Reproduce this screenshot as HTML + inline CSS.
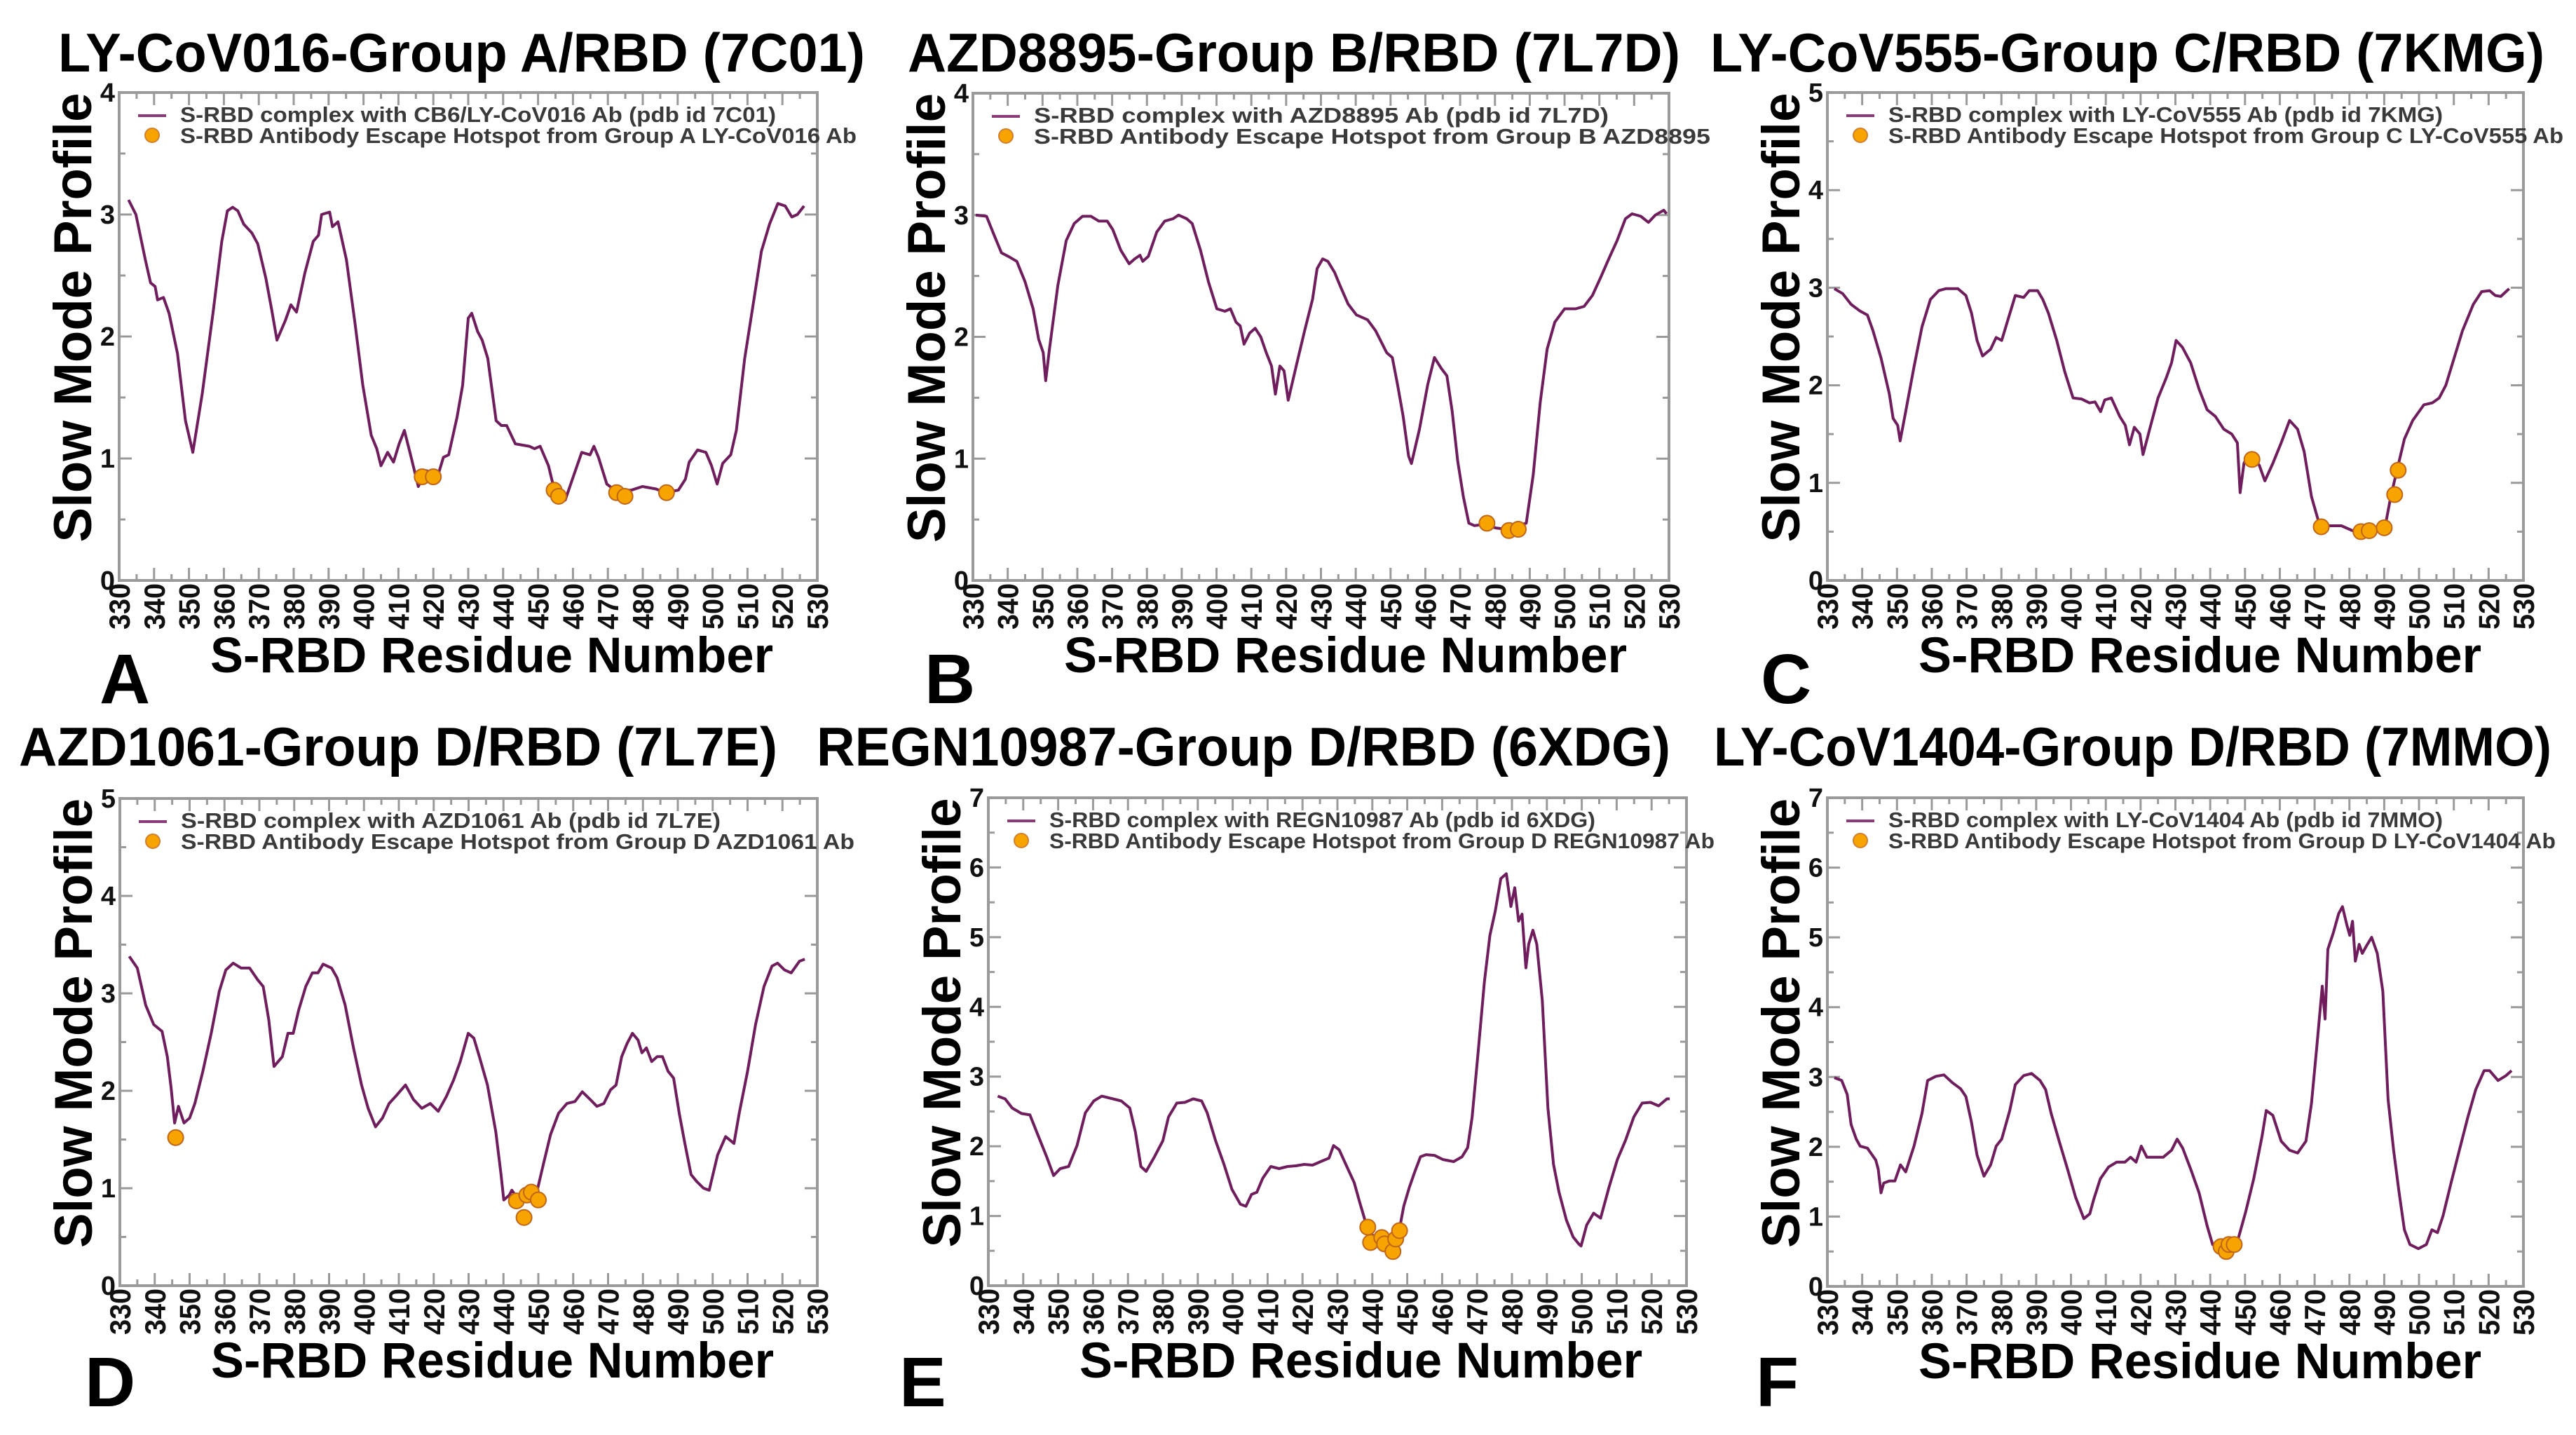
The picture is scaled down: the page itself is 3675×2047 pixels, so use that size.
<!DOCTYPE html>
<html>
<head>
<meta charset="utf-8">
<style>
html,body{margin:0;padding:0;background:#fff;}
svg{display:block;}
text{font-family:"Liberation Sans",Arial,sans-serif;}
</style>
</head>
<body>
<svg id="fig" xmlns="http://www.w3.org/2000/svg" width="3675" height="2047" viewBox="0 0 3675 2047"></svg>
<script>
// ---------- data ----------
const xTickLabels = [330,340,350,360,370,380,390,400,410,420,430,440,450,460,470,480,490,500,510,520,530];

const aRes = [332.7,334.8,337.5,339,340.3,341,342.7,344.3,346.7,349,351.1,353.8,357,359.4,361,362.5,364,365.7,368,369.7,372,373.7,375.2,377.6,379.2,380.8,383.2,385.6,387.1,388,390.3,391.1,392.7,395.1,397.5,399.8,402.2,403.8,405,406.9,408.6,410.2,411.7,413.3,415.7,418,421.3,422.9,424.4,426.8,428.4,430,431,432.7,434,435.6,438,439.5,441,443.5,447.5,449,450.6,453,454.6,457.8,460.2,462.5,464.9,466,467.3,469.7,472,476.7,479.9,483.8,486.3,490.2,492.2,493.3,495.7,498.1,499.7,501.3,502.9,505.2,506.8,509.2,511.6,514,516.3,518.7,520.8,522.7,524.3,526.2];
const aVal = [3.12,3.0,2.63,2.44,2.41,2.3,2.32,2.19,1.86,1.31,1.05,1.53,2.22,2.78,3.03,3.06,3.03,2.92,2.85,2.76,2.48,2.22,1.97,2.13,2.26,2.2,2.52,2.78,2.83,3.0,3.02,2.9,2.94,2.63,2.12,1.6,1.19,1.08,0.94,1.05,0.97,1.12,1.23,1.05,0.77,0.9,0.86,1.01,1.03,1.34,1.6,2.15,2.19,2.04,1.97,1.82,1.31,1.27,1.27,1.12,1.1,1.08,1.1,0.94,0.75,0.66,0.86,1.05,1.03,1.1,1.01,0.79,0.74,0.74,0.77,0.75,0.72,0.74,0.83,0.97,1.07,1.05,0.94,0.79,0.96,1.03,1.23,1.82,2.26,2.7,2.92,3.09,3.07,2.98,3.0,3.07];
const aDotRes = [416.8,420,454.6,455.9,472.5,474.9,486.8];
const aDotVal = [0.85,0.85,0.74,0.69,0.72,0.69,0.72];

const bRes = [330.8,333.9,336.3,338.2,340.2,342.6,345,347.3,348.9,350.2,350.9,352,354.4,356.8,359.1,361.5,363.9,366.2,368.6,370.2,372.5,374.9,376.5,378,378.8,380.4,382.8,385.1,387.5,389.1,391.4,393,395.4,397.7,400.1,402.4,404,405.6,406.8,407.9,409.5,411.1,412.7,414.3,415.8,416.9,418.2,419.4,420.6,422.9,425.3,427.6,428.9,430.5,432,433.9,435.5,437.8,440.2,443.4,445.7,448.9,450.5,452,453.6,455.2,456,458.3,460.7,462.6,464.6,466.2,467.7,469.3,470.9,472.5,474.1,476.5,480.4,483.5,489,491,493,495,497.2,500,503.2,505.6,508,510.4,512.7,515.1,517.5,519.4,521.9,524.1,526.1,528.5,529.3];
const bVal = [3.0,2.99,2.82,2.69,2.66,2.62,2.45,2.23,1.98,1.87,1.64,1.9,2.42,2.79,2.93,2.99,2.99,2.95,2.95,2.88,2.71,2.6,2.64,2.67,2.62,2.66,2.86,2.95,2.97,3.0,2.97,2.93,2.71,2.45,2.23,2.21,2.23,2.12,2.09,1.94,2.03,2.07,2.0,1.87,1.76,1.53,1.76,1.72,1.48,1.76,2.05,2.31,2.56,2.64,2.62,2.53,2.42,2.27,2.18,2.14,2.05,1.87,1.83,1.61,1.35,1.02,0.96,1.24,1.61,1.83,1.74,1.68,1.39,0.98,0.69,0.47,0.45,0.46,0.43,0.42,0.47,0.87,1.46,1.9,2.12,2.23,2.23,2.25,2.34,2.49,2.64,2.79,2.97,3.01,2.99,2.94,3.0,3.04,3.01];
const bDotRes = [477.7,484,486.7];
const bDotVal = [0.47,0.41,0.42];

const cRes = [332,334.4,336.8,339.4,341.5,343.1,345.4,347.8,348.9,350.2,350.9,352.5,354.9,357.2,359.6,362,364,367.5,369.8,371.4,373,374.6,376.9,378.5,380.1,381.7,384,386.4,388,390.4,391.9,393.5,395.9,398.2,400.6,403,405.3,406.9,408.5,409.7,411.6,414,415.6,416.8,418.2,419.8,420.7,422.6,425,427.3,428.9,430.2,432,434.4,436.8,439.1,441.5,443.9,446.2,447.8,448.6,449.7,450.9,452.2,454.1,455.7,458,460.4,462.8,465.1,467,469.1,471.4,473.8,477.7,480.9,483.3,488,490.3,491.9,493.4,495.8,498.2,501.4,503.8,505.8,507.7,510.1,512.5,515.6,518,520.3,521.9,523.5,525.9];
const cVal = [2.99,2.94,2.83,2.76,2.72,2.56,2.28,1.91,1.66,1.59,1.43,1.73,2.19,2.6,2.88,2.97,2.99,2.99,2.92,2.74,2.46,2.3,2.37,2.49,2.46,2.65,2.92,2.9,2.97,2.97,2.88,2.74,2.46,2.14,1.87,1.86,1.82,1.83,1.73,1.85,1.87,1.68,1.59,1.39,1.57,1.5,1.29,1.55,1.87,2.07,2.23,2.46,2.39,2.23,1.96,1.75,1.68,1.55,1.5,1.41,0.9,1.2,1.29,1.25,1.18,1.02,1.2,1.41,1.64,1.55,1.32,0.86,0.57,0.56,0.56,0.51,0.5,0.51,0.56,0.86,1.09,1.45,1.64,1.8,1.82,1.87,2.0,2.28,2.56,2.83,2.96,2.97,2.92,2.91,2.99];
const cDotRes = [452,471.9,483.3,485.7,490,493,494];
const cDotVal = [1.24,0.55,0.5,0.51,0.54,0.88,1.13];

const dRes = [332.7,335,337.4,339.7,342.1,343.6,344.7,345.7,346.8,348.4,350,351.5,353.8,356.2,358.5,360.4,362.5,364.8,367.2,369.5,371.1,372.7,374.2,376.6,378.2,379.7,381.3,383.3,385.2,386.8,388.3,390.7,392.3,394.6,397,399.3,401.2,403.3,405.3,407.2,409.5,411.9,414.2,416.6,419,421.3,423.6,425.7,427.6,429.9,431.5,433.1,435.4,437.8,439.3,440.1,441.7,442.4,444,445.6,447.2,449.5,451.4,453.5,455.8,458.2,460.5,462.6,464.9,466.8,468.8,470.7,472.3,473.9,475.5,477,478.6,479.7,481,482.5,484.1,485.6,487.2,488.8,490.4,491.9,493.8,495.4,497.4,499,501.4,503.7,506.1,507.6,510,512.3,514.7,517,518.6,520.6,522.5,524.9,526.4];
const dVal = [3.38,3.26,2.88,2.68,2.61,2.35,2.03,1.67,1.84,1.67,1.72,1.87,2.2,2.59,3.02,3.24,3.31,3.26,3.26,3.14,3.07,2.73,2.25,2.35,2.59,2.59,2.83,3.07,3.21,3.21,3.3,3.26,3.16,2.88,2.44,2.06,1.82,1.63,1.72,1.87,1.96,2.06,1.91,1.82,1.87,1.79,1.94,2.11,2.3,2.59,2.54,2.35,2.06,1.58,1.14,0.88,0.93,0.98,0.9,0.86,0.93,0.95,1.24,1.55,1.77,1.87,1.89,1.99,1.91,1.84,1.87,2.01,2.06,2.35,2.49,2.59,2.52,2.39,2.44,2.3,2.35,2.35,2.2,2.13,1.77,1.48,1.14,1.07,1.0,0.98,1.34,1.53,1.46,1.77,2.2,2.68,3.07,3.28,3.31,3.24,3.21,3.33,3.35];
const dDotRes = [346,443.7,445.9,446.7,448,450];
const dDotVal = [1.52,0.87,0.7,0.93,0.96,0.88];

const eRes = [332.7,334.8,336.8,339.5,341.9,344.3,346.7,348.7,350.6,353,355.4,357.8,360.2,362.5,365.7,368.1,370.5,372.1,373.7,375.2,377.6,380,381.6,384,386.3,388.7,391.1,392.7,395.1,397.5,399.8,402.2,403.8,405.4,406.9,408.6,410.9,413.3,415.7,418.1,420.5,422.9,425.2,427.6,428.9,430.5,432.4,434.8,436.3,437.9,439.5,441.1,442.7,444.3,445.9,447.5,449,450.6,452.2,453.8,455.4,457.8,460.2,463.3,465.7,467.3,468.6,470.2,472.1,473.7,475.2,476.8,478.4,479.7,480.8,481.9,482.9,484,484.8,486,487.1,488.7,490.3,491.9,493.5,495.6,497.5,499.1,499.8,501.4,503.4,505.4,507.8,510.2,512.5,514.9,517.3,519.7,522,524.4,525.2];
const eVal = [2.72,2.68,2.55,2.47,2.45,2.15,1.85,1.58,1.68,1.71,2.01,2.48,2.65,2.72,2.68,2.65,2.55,2.21,1.71,1.64,1.85,2.08,2.42,2.62,2.63,2.68,2.65,2.48,2.08,1.74,1.38,1.17,1.14,1.31,1.34,1.54,1.71,1.68,1.71,1.72,1.74,1.73,1.78,1.83,2.01,1.95,1.74,1.48,1.21,0.94,0.74,0.7,0.7,0.6,0.6,0.74,1.14,1.41,1.64,1.85,1.88,1.87,1.81,1.78,1.85,1.98,2.42,3.29,4.36,5.03,5.37,5.84,5.91,5.44,5.71,5.23,5.33,4.56,4.9,5.1,4.9,4.09,2.55,1.74,1.34,0.94,0.7,0.6,0.57,0.87,1.04,0.97,1.41,1.81,2.08,2.42,2.62,2.63,2.58,2.68,2.68];
const eDotRes = [438.7,439.5,442.7,443.5,445.9,446.7,447.8];
const eDotVal = [0.84,0.62,0.69,0.6,0.49,0.67,0.79];

const fRes = [332,334.1,335.7,336.8,338.3,339.4,341.5,343.9,344.6,345.4,346.2,347.8,349.4,351,352.5,354.9,357.2,358.8,361.2,363.5,365.9,368.3,369.8,371.4,373,375,376.9,378.5,380.1,382.4,384,386.4,388.7,391.1,392.7,394.3,396.6,399,401.3,403.7,405.4,406.5,408.4,410.8,413.1,415.5,417.1,418.7,420.2,421.8,424.2,426.5,428.9,430.5,432.1,434.4,436.8,439.1,440.7,442.3,445.4,447.8,450.2,452.5,454.9,456.1,458,460.4,462.8,465.1,467.5,469.1,470.6,472.2,473,473.8,475.4,476.9,478,479.3,480.1,480.9,481.7,482.8,483.7,484.8,486.4,488,489.6,491.1,492.7,494.3,495.8,497.4,499.8,502.1,503.7,505.3,506.9,509.2,511.6,514,516.3,518.7,520.3,522.7,525,526.6];
const fVal = [2.99,2.95,2.75,2.32,2.11,2.01,1.98,1.81,1.68,1.34,1.48,1.51,1.51,1.74,1.64,2.01,2.48,2.95,3.01,3.03,2.92,2.83,2.72,2.35,1.88,1.58,1.74,2.01,2.11,2.52,2.89,3.02,3.05,2.95,2.82,2.48,2.08,1.68,1.28,0.97,1.04,1.24,1.54,1.71,1.78,1.78,1.85,1.78,2.01,1.85,1.85,1.85,1.95,2.11,1.98,1.68,1.34,0.87,0.6,0.54,0.5,0.64,1.07,1.54,2.15,2.52,2.45,2.08,1.95,1.91,2.08,2.62,3.42,4.3,3.83,4.83,5.07,5.34,5.44,5.17,5.03,5.23,4.66,4.9,4.77,4.87,5.0,4.77,4.23,2.68,1.95,1.34,0.81,0.6,0.54,0.6,0.81,0.77,1.01,1.48,1.95,2.42,2.82,3.09,3.09,2.95,3.02,3.09];
const fDotRes = [443.1,444.6,445.4,446.9];
const fDotVal = [0.57,0.5,0.6,0.6];

const panelTitles = ["LY-CoV016-Group A/RBD (7C01)","AZD8895-Group B/RBD (7L7D)","LY-CoV555-Group C/RBD (7KMG)","AZD1061-Group D/RBD (7L7E)","REGN10987-Group D/RBD (6XDG)","LY-CoV1404-Group D/RBD (7MMO)"];
const legendLine = ["S-RBD  complex with CB6/LY-CoV016 Ab (pdb id 7C01)","S-RBD  complex with AZD8895 Ab (pdb id 7L7D)","S-RBD  complex with LY-CoV555 Ab (pdb id 7KMG)","S-RBD  complex with AZD1061 Ab (pdb id 7L7E)","S-RBD  complex with REGN10987 Ab (pdb id 6XDG)","S-RBD  complex with LY-CoV1404 Ab (pdb id 7MMO)"];
const legendDot = ["S-RBD Antibody Escape Hotspot from Group A LY-CoV016 Ab","S-RBD Antibody Escape Hotspot from Group B AZD8895","S-RBD Antibody Escape Hotspot from Group C LY-CoV555 Ab","S-RBD Antibody Escape Hotspot from Group D AZD1061 Ab","S-RBD Antibody Escape Hotspot from Group D REGN10987 Ab","S-RBD Antibody Escape Hotspot from Group D LY-CoV1404 Ab"];
const yMaxes = [4,4,5,5,7,7];
const panelLetters = ["A","B","C","D","E","F"];

// ---------- layout ----------
const boxes = [
  {l:170,t:132,r:1166,b:828, tx:83,tw:1151,ty:102, lx:142,ly:1003, l1:850,l2:965},
  {l:1388,t:133,r:2381,b:828, tx:1295,tw:1102,ty:102, lx:1319,ly:1003, l1:820,l2:965},
  {l:2607,t:132,r:3600,b:828, tx:2440,tw:1190,ty:102, lx:2512,ly:1003, l1:791,l2:963},
  {l:171,t:1139,r:1166,b:1834, tx:27,tw:1082,ty:1092, lx:121,ly:2006, l1:770,l2:961},
  {l:1410,t:1138,r:2406,b:1834, tx:1165,tw:1218,ty:1092, lx:1283,ly:2006, l1:779,l2:949},
  {l:2607,t:1138,r:3600,b:1835, tx:2445,tw:1195,ty:1092, lx:2505,ly:2006, l1:791,l2:952}
];
const seriesRes = [aRes,bRes,cRes,dRes,eRes,fRes];
const seriesVal = [aVal,bVal,cVal,dVal,eVal,fVal];
const dotRes = [aDotRes,bDotRes,cDotRes,dDotRes,eDotRes,fDotRes];
const dotVal = [aDotVal,bDotVal,cDotVal,dDotVal,eDotVal,fDotVal];

const NS = "http://www.w3.org/2000/svg";
const svg = document.getElementById("fig");
function mk(tag, attrs, parent){
  const e = document.createElementNS(NS, tag);
  for (const k in attrs) e.setAttribute(k, attrs[k]);
  (parent||svg).appendChild(e);
  return e;
}
const AX = "#9a9a9a";

for (let p=0;p<6;p++){
  const B = boxes[p];
  const ymax = yMaxes[p];
  const xS = v => B.l + (v-330)/200*(B.r-B.l);
  const yS = v => B.b - v/ymax*(B.b-B.t);
  const g = mk("g",{});
  
  

  // title
  const tt = mk("text",{x:B.tx,y:B.ty,"font-size":78,"font-weight":"bold",fill:"#000",textLength:B.tw,lengthAdjust:"spacingAndGlyphs"},g);
  tt.textContent = panelTitles[p];
  
  

  // ticks
  const tg = mk("g",{stroke:AX,"stroke-width":3},g);
  
  
  for (let v=330; v<=530; v+=5){
    const x = xS(v), L = (v%10===0)?18:9;
    mk("line",{x1:x,y1:B.b,x2:x,y2:B.b-L},tg);
    mk("line",{x1:x,y1:B.t,x2:x,y2:B.t+L},tg);
  }
  for (let k=0;k<=ymax*2;k++){
    const v=k/2, y=yS(v), L=(k%2===0)?18:9;
    mk("line",{x1:B.l,y1:y,x2:B.l+L,y2:y},tg);
    mk("line",{x1:B.r,y1:y,x2:B.r-L,y2:y},tg);
  }
  const box = mk("rect",{x:B.l,y:B.t,width:B.r-B.l,height:B.b-B.t,fill:"none",stroke:AX,"stroke-width":4},g);
  
  

  // y tick labels
  for (let v=0; v<=ymax; v++){
    const t = mk("text",{x:B.l-6,y:yS(v)+13,"font-size":38,"font-weight":"bold","text-anchor":"end",fill:"#111"},g);
    t.textContent = v;
    
    
  }
  // x tick labels (rotated)
  for (let i=0;i<xTickLabels.length;i++){
    const x = xS(xTickLabels[i]), y = B.b+4;
    const t = mk("text",{x:0,y:0,"font-size":42,"font-weight":"bold","text-anchor":"end",fill:"#111",textLength:66,lengthAdjust:"spacingAndGlyphs",transform:`translate(${x+15},${y}) rotate(-90)`},g);
    t.textContent = xTickLabels[i];
    
    
  }
  // axis titles
  const cy = (B.t+B.b)/2 - 27;
  const yt = mk("text",{x:0,y:0,"font-size":76,"font-weight":"bold","text-anchor":"middle",fill:"#000",textLength:641,lengthAdjust:"spacingAndGlyphs",transform:`translate(${B.l-40},${cy}) rotate(-90)`},g);
  yt.textContent = "Slow Mode Profile";
  
  
  const xt = mk("text",{x:B.l+130,y:B.b+131,"font-size":71,"font-weight":"bold",fill:"#000",textLength:803,lengthAdjust:"spacingAndGlyphs"},g);
  xt.textContent = "S-RBD Residue Number";
  
  
  // panel letter
  const pl = mk("text",{x:B.lx,y:B.ly,"font-size":100,"font-weight":"bold",fill:"#000"},g);
  pl.textContent = panelLetters[p];
  
  

  // series line
  const R = seriesRes[p], V = seriesVal[p];
  let d = "";
  for (let i=0;i<R.length;i++) d += (i?"L":"M")+xS(R[i]).toFixed(1)+","+yS(V[i]).toFixed(1);
  const path = mk("path",{d:d,fill:"none",stroke:"#6f1d5c","stroke-width":4,"stroke-linejoin":"round"},g);
  
  
  // dots
  const DR = dotRes[p], DV = dotVal[p];
  for (let i=0;i<DR.length;i++){
    const c = mk("circle",{cx:xS(DR[i]),cy:yS(DV[i]),r:11,fill:"#f7a300",stroke:"#c0661a","stroke-width":2},g);
    
    
  }

  // legend
  const lg = mk("g",{},g);
  
  
  mk("line",{x1:B.l+27,y1:B.t+33,x2:B.l+67,y2:B.t+33,stroke:"#8a3a78","stroke-width":4},lg);
  mk("circle",{cx:B.l+47,cy:B.t+61,r:10,fill:"#f7a300",stroke:"#d08030","stroke-width":2},lg);
  const l1 = mk("text",{x:B.l+87,y:B.t+42,"font-size":31,"font-weight":"bold",fill:"#3a3a3a",textLength:B.l1,lengthAdjust:"spacingAndGlyphs"},lg);
  l1.textContent = legendLine[p];
  
  
  const l2 = mk("text",{x:B.l+87,y:B.t+72,"font-size":31,"font-weight":"bold",fill:"#3a3a3a",textLength:B.l2,lengthAdjust:"spacingAndGlyphs"},lg);
  l2.textContent = legendDot[p];
  
  
}
</script>
</body>
</html>
